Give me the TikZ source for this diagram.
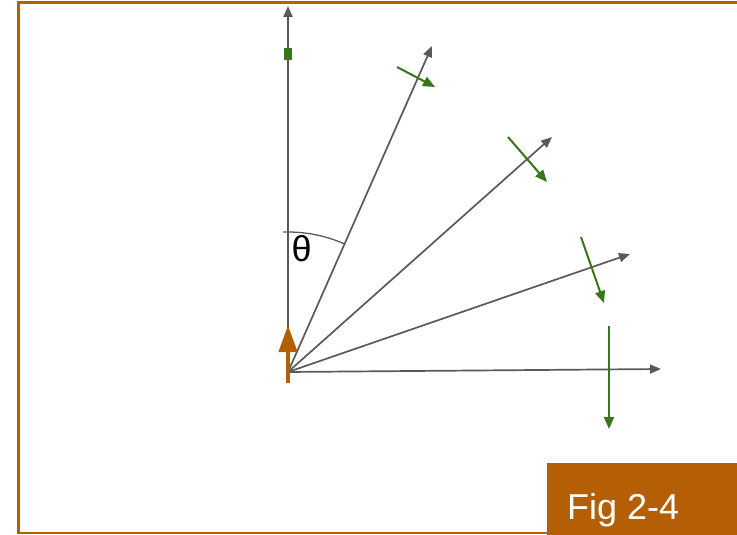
\documentclass[tikz,border=0pt]{standalone}
\usepackage{fontspec}
\setmainfont{Liberation Sans}
\usetikzlibrary{arrows.meta}
\definecolor{figorange}{HTML}{B45F06}
\definecolor{figgreen}{HTML}{38761D}
\definecolor{raygray}{HTML}{595959}

\begin{document}
\begin{tikzpicture}[
  x=1pt,y=-1pt,
  ray/.style={draw=raygray,line width=1.7pt,-{Triangle[length=11pt,width=9pt]}},
  pol/.style={draw=figgreen,line width=2pt,-{Triangle[length=12pt,width=10pt]}},
  lbl/.style={font=\fontsize{36}{40}\selectfont,inner sep=0pt}
]
\useasboundingbox (0,0) rectangle (737,535);
\draw[figorange,line width=2.2pt] (737,2.5) -- (18.5,2.5) -- (18.5,533) -- (737,533);
% rays from the origin
\coordinate (o) at (288,372);
\coordinate (v) at (288,6);
\coordinate (r1) at (432,46);
\coordinate (r2) at (552,137);
\coordinate (r3) at (630,254);
\coordinate (r4) at (661,369);
\draw[ray] (o) -- (v);
\draw[ray] (o) -- (r1);
\draw[ray] (o) -- (r2);
\draw[ray] (o) -- (r3);
\draw[ray] (o) -- (r4);
\node[fill=figgreen,minimum width=7.5pt,minimum height=12pt,inner sep=0pt] (sq) at (288,54) {};
% green arrows across the rays
\coordinate (p1s) at (397,67);  \coordinate (p1e) at (435,87);
\coordinate (p2s) at (508,137); \coordinate (p2e) at (547,182);
\coordinate (p3s) at (581,237); \coordinate (p3e) at (604,303);
\coordinate (p4s) at (609,326); \coordinate (p4e) at (609,429);
\draw[pol] (p1s) -- (p1e);
\draw[pol] (p2s) -- (p2e);
\draw[pol] (p3s) -- (p3e);
\draw[pol] (p4s) -- (p4e);
% angle
\draw[raygray,line width=1.3pt] ([shift={(92:140pt)}]o) arc[start angle=92,end angle=66,radius=140pt];
\node[lbl] (theta) at (301.7,249) {θ};
% orange arrow
\coordinate (ob) at (288,383);
\coordinate (ot) at (288,325);
\draw[figorange,line width=4pt,-{Triangle[length=27pt,width=18pt]}] (ob) -- (ot);
% caption box
\node[fill=figorange,minimum width=190pt,minimum height=72pt,anchor=north west,inner sep=0pt] (figbox) at (547,463) {};
\node[lbl,text=white,anchor=base west] (fig) at (567,519) {Fig 2-4};
\end{tikzpicture}
\end{document}
